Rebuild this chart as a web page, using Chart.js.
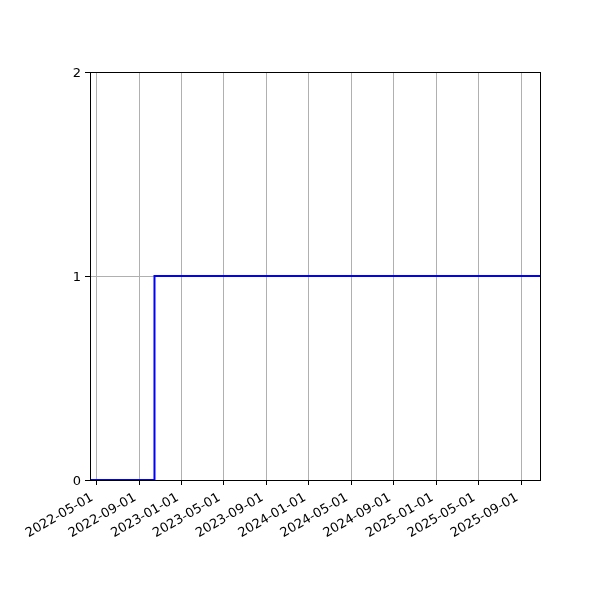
<!DOCTYPE html>
<html lang="en">
<head>
	<meta charset="UTF-8">
	<title>Step chart</title>
	<style>
		html, body {
			margin: 0;
			padding: 0;
			background-color: white;
		}
		#chart {
			display: block;
		}
	</style>
	<script src="https://cdn.jsdelivr.net/npm/chart.js"></script>
</head>
<body>
<canvas id="chart" width="600" height="600"></canvas>
<script>
	// данные ступенчатой линии
	const stepDates = ['2022-04-15', '2022-10-15', '2025-10-25'];
	const stepValues = [0, 1, 1];

	// подписи оси X и диапазон
	const tickDates = ['2022-05-01', '2022-09-01', '2023-01-01', '2023-05-01', '2023-09-01',
		'2024-01-01', '2024-05-01', '2024-09-01', '2025-01-01', '2025-05-01', '2025-09-01'];
	const xRange = ['2022-04-13', '2025-10-25'];
	const yTicks = [0, 1, 2];

	const DAY = 86400000;
	const toDays = s => Date.parse(s + 'T00:00:00Z') / DAY;
	const fmt = d => new Date(Math.round(d) * DAY).toISOString().slice(0, 10);

	// рамка вокруг области графика, как у matplotlib
	const frame = {
		id: 'frame',
		afterDatasetsDraw(chart) {
			const a = chart.chartArea;
			const ctx = chart.ctx;
			ctx.save();
			ctx.strokeStyle = '#000';
			ctx.lineWidth = 1;
			ctx.strokeRect(Math.round(a.left) + 0.5, Math.round(a.top) + 0.5,
				Math.round(a.right - a.left), Math.round(a.bottom - a.top));
			ctx.restore();
		}
	};

	const font = { family: 'DejaVu Sans', size: 13 };

	new Chart(document.getElementById('chart').getContext('2d'), {
		type: 'line',
		data: {
			datasets: [{
				data: stepDates.map((d, i) => ({ x: toDays(d), y: stepValues[i] })),
				borderColor: '#0000ff',
				borderWidth: 2,
				stepped: 'before',
				pointRadius: 0,
				fill: false
			}]
		},
		options: {
			responsive: false,
			animation: false,
			layout: { padding: { left: 0, right: 60, top: 72, bottom: 0 } },
			plugins: {
				legend: { display: false },
				tooltip: { enabled: false }
			},
			scales: {
				x: {
					type: 'linear',
					min: toDays(xRange[0]),
					max: toDays(xRange[1]),
					afterBuildTicks: axis => {
						axis.ticks = tickDates.map(d => ({ value: toDays(d) }));
					},
					afterFit: axis => { axis.height = 120; },
					ticks: {
						callback: v => fmt(v),
						minRotation: 30,
						maxRotation: 30,
						autoSkip: false,
						color: '#000',
						font: font,
						padding: 5,
						labelOffset: -4
					},
					grid: {
						color: '#b0b0b0',
						lineWidth: 1,
						tickColor: '#000',
						tickLength: 5
					},
					border: { color: '#000' }
				},
				y: {
					min: 0,
					max: 2,
					afterBuildTicks: axis => {
						axis.ticks = yTicks.map(v => ({ value: v }));
					},
					afterFit: axis => { axis.width = 90; },
					ticks: {
						color: '#000',
						font: font,
						padding: 4,
						labelOffset: 2
					},
					grid: {
						color: '#b0b0b0',
						lineWidth: 1,
						tickColor: '#000',
						tickLength: 5
					},
					border: { color: '#000' }
				}
			}
		},
		plugins: [frame]
	});
</script>
</body>
</html>
